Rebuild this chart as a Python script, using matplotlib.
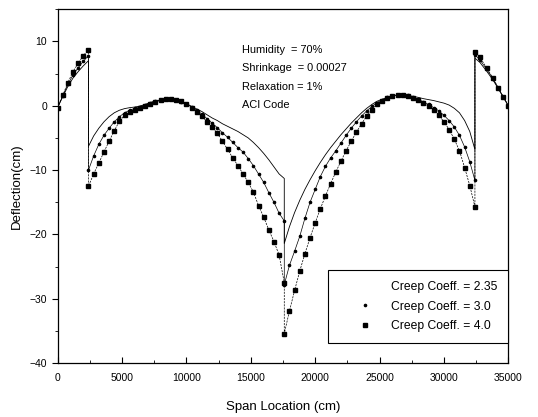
import numpy as np
import matplotlib
matplotlib.use("Agg")
from matplotlib import pyplot as plt
from matplotlib.ticker import MultipleLocator

# span positions (cm); supports at 2400, 17600, 32400 -> repeated x gives the jumps
x_cant_l = [0, 400, 800, 1200, 1600, 2000, 2400]
x_span1 = list(range(2400, 17601, 400))
x_span2 = list(range(17600, 32401, 400))
x_cant_r = [32400, 32800, 33300, 33800, 34200, 34600, 35000]

# creep coeff. = 2.35 (plain line)
c235_cl = [-0.3, 1.4, 3.0, 4.3, 5.3, 6.2, 7.0]
c235_s1 = [-6.3, -4.7, -3.5, -2.5, -1.7, -1.1, -0.7, -0.45, -0.3, -0.2,
           -0.05, 0.2, 0.5, 0.75, 0.9, 1.0, 1.0, 0.9, 0.7, 0.35,
           -0.1, -0.5, -0.9, -1.4, -1.9, -2.3, -2.8, -3.2, -3.6, -4.0,
           -4.5, -5.0, -5.7, -6.5, -7.4, -8.4, -9.5, -10.6, -11.3]
c235_s2 = [-21.4, -18.8, -16.6, -14.7, -13.0, -11.5, -10.1, -8.8, -7.6, -6.5,
           -5.5, -4.5, -3.6, -2.7, -1.9, -1.1, -0.4, 0.2, 0.7, 1.0,
           1.3, 1.5, 1.65, 1.7, 1.6, 1.45, 1.3, 1.1, 0.95, 0.8,
           0.6, 0.4, 0.1, -0.4, -1.1, -2.3, -4.0, -6.8]
c235_cr = [7.4, 6.7, 5.4, 4.0, 2.7, 1.3, 0.0]

# creep coeff. = 3.0 (small dots)
c30_cl = [-0.3, 1.5, 3.3, 4.8, 5.9, 6.9, 7.8]
c30_s1 = [-10.0, -7.8, -6.0, -4.6, -3.5, -2.5, -1.7, -1.1, -0.7, -0.4,
          -0.15, 0.15, 0.45, 0.7, 0.9, 1.0, 1.0, 0.9, 0.65, 0.3,
          -0.2, -0.7, -1.3, -2.0, -2.7, -3.4, -4.2, -4.9, -5.7, -6.5,
          -7.2, -8.2, -9.3, -10.6, -11.9, -13.5, -15.0, -16.7, -17.9]
c30_s2 = [-27.8, -24.8, -22.6, -20.3, -17.5, -15.0, -13.0, -11.0, -9.4, -8.1,
          -7.0, -5.8, -4.6, -3.5, -2.5, -1.6, -0.8, -0.1, 0.5, 0.9,
          1.3, 1.55, 1.7, 1.7, 1.6, 1.35, 1.0, 0.6, 0.2, -0.3,
          -0.8, -1.5, -2.3, -3.3, -4.6, -6.4, -8.7, -11.6]
c30_cr = [7.9, 7.1, 5.7, 4.2, 2.8, 1.4, 0.0]

# creep coeff. = 4.0 (squares)
c40_cl = [-0.3, 1.6, 3.6, 5.3, 6.6, 7.8, 8.7]
c40_s1 = [-12.5, -10.6, -8.9, -7.2, -5.5, -3.9, -2.4, -1.5, -0.9, -0.6,
          -0.35, -0.1, 0.25, 0.55, 0.85, 1.0, 1.05, 0.95, 0.7, 0.3,
          -0.3, -0.9, -1.6, -2.5, -3.3, -4.3, -5.5, -6.8, -8.1, -9.3,
          -10.6, -11.9, -13.4, -15.5, -17.3, -19.3, -21.1, -23.2, -27.5]
c40_s2 = [-35.4, -31.9, -28.7, -25.7, -23.0, -20.5, -18.2, -16.0, -14.0, -12.1,
          -10.3, -8.6, -7.0, -5.5, -4.1, -2.8, -1.6, -0.6, 0.2, 0.8,
          1.2, 1.5, 1.7, 1.7, 1.55, 1.25, 0.85, 0.4, -0.1, -0.7,
          -1.5, -2.5, -3.7, -5.2, -7.0, -9.6, -12.4, -15.7]
c40_cr = [8.4, 7.5, 5.9, 4.3, 2.8, 1.4, -0.1]

labels = ["Creep Coeff. = 2.35", "Creep Coeff. = 3.0", "Creep Coeff. = 4.0"]
notes = ["Humidity  = 70%", "Shrinkage  = 0.00027", "Relaxation = 1%", "ACI Code"]

xs = x_cant_l + x_span1 + x_span2 + x_cant_r
y235 = c235_cl + c235_s1 + c235_s2 + c235_cr
y30 = c30_cl + c30_s1 + c30_s2 + c30_cr
y40 = c40_cl + c40_s1 + c40_s2 + c40_cr

plt.rcParams["font.family"] = ["Liberation Sans", "DejaVu Sans"]

fig = plt.figure(figsize=(5.38, 4.17), dpi=100)
ax = fig.add_axes([0.107, 0.129, 0.838, 0.849])

ax.plot(xs, y235, color="black", lw=0.6, label=labels[0])
ax.plot(xs, y30, color="black", lw=0.5, marker="o", ms=1.6, label=labels[1])
ax.plot(xs, y40, color="black", lw=0.5, ls=(0, (3, 1.5)), marker="s", ms=3.4,
        label=labels[2])

ax.set_xlim(0, 35000)
ax.set_ylim(-40, 15)
ax.xaxis.set_major_locator(MultipleLocator(5000))
ax.xaxis.set_minor_locator(MultipleLocator(2500))
ax.yaxis.set_major_locator(MultipleLocator(10))
ax.yaxis.set_minor_locator(MultipleLocator(5))
ax.tick_params(axis="x", which="both", direction="in", labelsize=7.5, pad=7)
ax.tick_params(axis="x", which="major", length=4)
ax.tick_params(axis="x", which="minor", length=2.5)
ax.tick_params(axis="y", which="both", direction="out", labelsize=7.5)
ax.tick_params(axis="y", which="major", length=4)
ax.tick_params(axis="y", which="minor", length=2.5)
for s in ax.spines.values():
    s.set_linewidth(0.9)

ax.set_xlabel("Span Location (cm)", fontsize=9.5)
ax.set_ylabel("Deflection(cm)", fontsize=9.5)
ax.xaxis.set_label_coords(0.5, -0.108)
ax.yaxis.set_label_coords(-0.078, 0.5)

for i, t in enumerate(notes):
    ax.text(0.4095, 0.885 - i * 0.0518, t, transform=ax.transAxes,
            fontsize=7.9, va="center", ha="left")

leg = ax.legend(loc="lower right", bbox_to_anchor=(1.0, 0.058), borderaxespad=0,
                fancybox=False, edgecolor="black", framealpha=1,
                handlelength=4.2, handletextpad=0.1, borderpad=0.9,
                labelspacing=0.6, prop={"size": 8.7})
leg.get_frame().set_linewidth(0.8)
for h in leg.legend_handles:
    h.set_linestyle("None")

fig.savefig("out.png", dpi=100)
